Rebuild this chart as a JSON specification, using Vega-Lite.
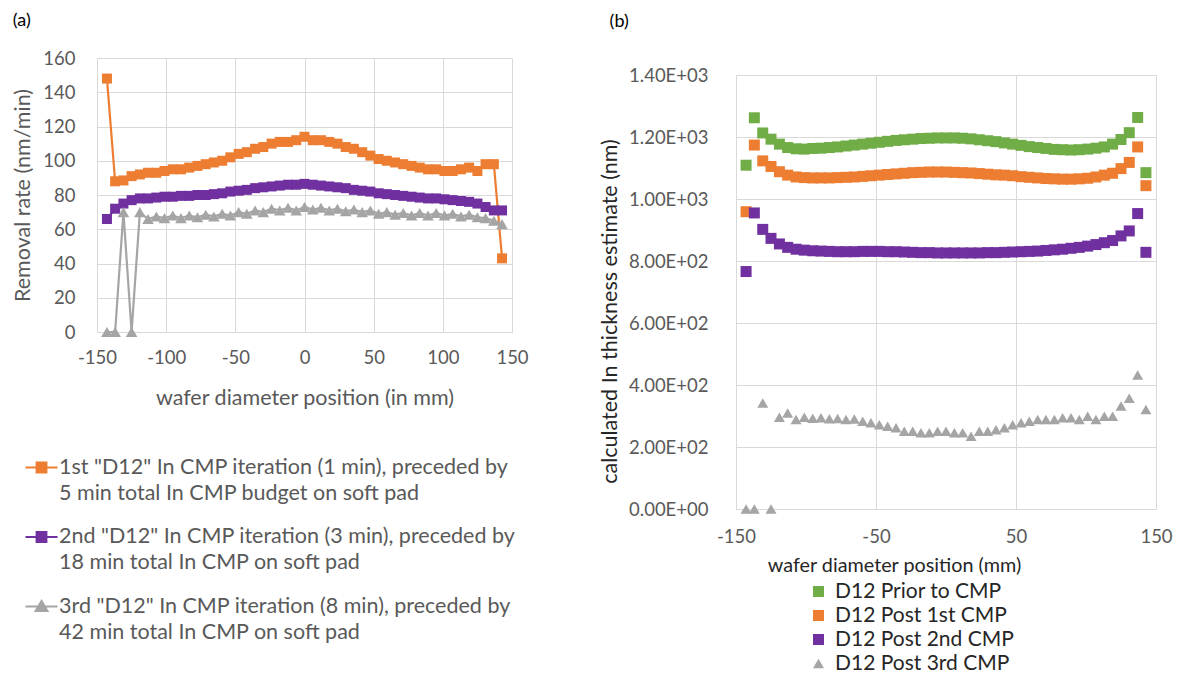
{
  "$schema": "https://vega.github.io/schema/vega-lite/v6.json",
  "background": "white",
  "padding": {"left": 12, "top": 12, "right": 0, "bottom": 0},
  "config": {
    "font": "Lato",
    "view": {"stroke": null},
    "axis": {"ticks": false, "gridColor": "#d9d9d9", "domainColor": "#d9d9d9", "labelFontSize": 18.5, "titleFontSize": 21.5, "titleFontWeight": "normal", "labelColor": "#595959", "titleColor": "#595959", "labelFont": "Lato", "titleFont": "Lato", "labelFlush": false, "labelOverlap": false},
    "title": {"font": "Lato"}
  },
  "resolve": {"scale": {"x": "independent", "y": "independent", "color": "independent", "shape": "independent", "size": "independent"}, "legend": {"color": "independent", "shape": "independent"}},
  "spacing": 70,
  "datasets": {
    "rate": [
      {"x": -142.8, "1st": 148, "2nd": 66, "3rd": 0},
      {"x": -136.9, "1st": 88, "2nd": 72, "3rd": 0},
      {"x": -130.9, "1st": 88.5, "2nd": 75, "3rd": 70},
      {"x": -125.0, "1st": 91, "2nd": 77, "3rd": 0},
      {"x": -119.0, "1st": 92, "2nd": 78, "3rd": 70},
      {"x": -113.1, "1st": 93, "2nd": 78, "3rd": 66},
      {"x": -107.1, "1st": 93, "2nd": 78.5, "3rd": 67.5},
      {"x": -101.2, "1st": 94, "2nd": 79, "3rd": 66.5},
      {"x": -95.2, "1st": 95, "2nd": 79, "3rd": 68},
      {"x": -89.3, "1st": 95, "2nd": 79.5, "3rd": 66.5},
      {"x": -83.3, "1st": 96, "2nd": 79.5, "3rd": 68},
      {"x": -77.4, "1st": 97, "2nd": 80, "3rd": 67},
      {"x": -71.4, "1st": 98, "2nd": 80, "3rd": 68.5},
      {"x": -65.5, "1st": 99, "2nd": 80.5, "3rd": 67.5},
      {"x": -59.5, "1st": 100, "2nd": 81, "3rd": 69},
      {"x": -53.6, "1st": 102, "2nd": 82, "3rd": 68},
      {"x": -47.6, "1st": 104, "2nd": 82.5, "3rd": 70},
      {"x": -41.7, "1st": 105, "2nd": 83, "3rd": 69},
      {"x": -35.7, "1st": 107, "2nd": 84, "3rd": 71},
      {"x": -29.8, "1st": 108, "2nd": 84.5, "3rd": 70},
      {"x": -23.8, "1st": 110, "2nd": 85, "3rd": 72},
      {"x": -17.9, "1st": 111, "2nd": 85.5, "3rd": 71},
      {"x": -11.9, "1st": 111, "2nd": 86, "3rd": 72.5},
      {"x": -6.0, "1st": 112, "2nd": 86, "3rd": 71},
      {"x": 0, "1st": 114, "2nd": 86.5, "3rd": 73},
      {"x": 6.0, "1st": 112, "2nd": 86, "3rd": 71.5},
      {"x": 11.9, "1st": 112, "2nd": 85.5, "3rd": 72.5},
      {"x": 17.9, "1st": 111, "2nd": 85, "3rd": 71},
      {"x": 23.8, "1st": 110, "2nd": 84.5, "3rd": 72},
      {"x": 29.8, "1st": 108, "2nd": 84, "3rd": 70.5},
      {"x": 35.7, "1st": 107, "2nd": 83, "3rd": 71.5},
      {"x": 41.7, "1st": 105, "2nd": 82.5, "3rd": 70},
      {"x": 47.6, "1st": 103, "2nd": 82, "3rd": 71},
      {"x": 53.6, "1st": 101, "2nd": 81, "3rd": 69},
      {"x": 59.5, "1st": 100, "2nd": 80.5, "3rd": 70},
      {"x": 65.5, "1st": 99, "2nd": 80, "3rd": 68.5},
      {"x": 71.4, "1st": 98, "2nd": 79.5, "3rd": 69.5},
      {"x": 77.4, "1st": 97, "2nd": 79, "3rd": 68},
      {"x": 83.3, "1st": 96, "2nd": 78.5, "3rd": 69.5},
      {"x": 89.3, "1st": 95, "2nd": 78, "3rd": 68},
      {"x": 95.2, "1st": 95, "2nd": 78, "3rd": 69.5},
      {"x": 101.2, "1st": 94, "2nd": 77.5, "3rd": 68},
      {"x": 107.1, "1st": 94, "2nd": 77, "3rd": 69},
      {"x": 113.1, "1st": 95, "2nd": 76.5, "3rd": 67.5},
      {"x": 119.0, "1st": 96, "2nd": 76, "3rd": 68.5},
      {"x": 125.0, "1st": 94, "2nd": 75, "3rd": 67},
      {"x": 130.9, "1st": 98, "2nd": 73, "3rd": 66.5},
      {"x": 136.9, "1st": 98, "2nd": 71, "3rd": 65},
      {"x": 142.8, "1st": 43, "2nd": 71, "3rd": 63}
    ],
    "thick": [
      {"x": -142.8, "g": 1109, "o": 959, "p": 766, "t": 0},
      {"x": -136.9, "g": 1262, "o": 1174, "p": 955, "t": 0},
      {"x": -130.9, "g": 1213, "o": 1123, "p": 902, "t": 342},
      {"x": -125.0, "g": 1193, "o": 1105, "p": 873, "t": 0},
      {"x": -119.0, "g": 1177, "o": 1088, "p": 855, "t": 296},
      {"x": -113.1, "g": 1166, "o": 1077, "p": 844, "t": 310},
      {"x": -107.1, "g": 1162, "o": 1071, "p": 838, "t": 289},
      {"x": -101.2, "g": 1161, "o": 1069, "p": 835, "t": 296},
      {"x": -95.2, "g": 1163, "o": 1068, "p": 833, "t": 293},
      {"x": -89.3, "g": 1164, "o": 1068, "p": 832, "t": 294},
      {"x": -83.3, "g": 1166, "o": 1068, "p": 831, "t": 291},
      {"x": -77.4, "g": 1168, "o": 1069, "p": 830, "t": 292},
      {"x": -71.4, "g": 1171, "o": 1070, "p": 830, "t": 289},
      {"x": -65.5, "g": 1174, "o": 1071, "p": 830, "t": 290},
      {"x": -59.5, "g": 1177, "o": 1073, "p": 831, "t": 283},
      {"x": -53.6, "g": 1180, "o": 1075, "p": 831, "t": 278},
      {"x": -47.6, "g": 1183, "o": 1077, "p": 831, "t": 272},
      {"x": -41.7, "g": 1186, "o": 1079, "p": 830, "t": 267},
      {"x": -35.7, "g": 1189, "o": 1081, "p": 830, "t": 262},
      {"x": -29.8, "g": 1191, "o": 1083, "p": 829, "t": 251},
      {"x": -23.8, "g": 1193, "o": 1085, "p": 828, "t": 251},
      {"x": -17.9, "g": 1195, "o": 1086, "p": 827, "t": 246},
      {"x": -11.9, "g": 1196, "o": 1087, "p": 827, "t": 246},
      {"x": -6.0, "g": 1197, "o": 1087, "p": 826, "t": 251},
      {"x": 0, "g": 1197, "o": 1087, "p": 826, "t": 251},
      {"x": 6.0, "g": 1197, "o": 1086, "p": 826, "t": 246},
      {"x": 11.9, "g": 1196, "o": 1085, "p": 826, "t": 246},
      {"x": 17.9, "g": 1194, "o": 1084, "p": 826, "t": 235},
      {"x": 23.8, "g": 1191, "o": 1082, "p": 826, "t": 251},
      {"x": 29.8, "g": 1188, "o": 1080, "p": 827, "t": 251},
      {"x": 35.7, "g": 1185, "o": 1078, "p": 827, "t": 256},
      {"x": 41.7, "g": 1181, "o": 1077, "p": 828, "t": 262},
      {"x": 47.6, "g": 1177, "o": 1075, "p": 829, "t": 272},
      {"x": 53.6, "g": 1173, "o": 1072, "p": 830, "t": 278},
      {"x": 59.5, "g": 1169, "o": 1070, "p": 831, "t": 283},
      {"x": 65.5, "g": 1166, "o": 1068, "p": 832, "t": 289},
      {"x": 71.4, "g": 1163, "o": 1066, "p": 834, "t": 289},
      {"x": 77.4, "g": 1160, "o": 1065, "p": 836, "t": 289},
      {"x": 83.3, "g": 1159, "o": 1064, "p": 838, "t": 294},
      {"x": 89.3, "g": 1158, "o": 1064, "p": 841, "t": 294},
      {"x": 95.2, "g": 1159, "o": 1065, "p": 844, "t": 289},
      {"x": 101.2, "g": 1161, "o": 1067, "p": 848, "t": 299},
      {"x": 107.1, "g": 1164, "o": 1071, "p": 853, "t": 289},
      {"x": 113.1, "g": 1168, "o": 1077, "p": 859, "t": 299},
      {"x": 119.0, "g": 1177, "o": 1083, "p": 866, "t": 299},
      {"x": 125.0, "g": 1192, "o": 1098, "p": 881, "t": 332},
      {"x": 130.9, "g": 1214, "o": 1118, "p": 897, "t": 357},
      {"x": 136.9, "g": 1263, "o": 1168, "p": 953, "t": 432},
      {"x": 142.8, "g": 1085, "o": 1043, "p": 828, "t": 321}
    ]
  },
  "hconcat": [
    {
      "title": {"text": "(a)", "anchor": "start", "frame": "bounds", "fontSize": 18, "fontWeight": "normal", "color": "#000000", "offset": 19, "dy": 0},
      "width": 415,
      "height": 274,
      "data": {"name": "rate"},
      "transform": [{"fold": ["1st", "2nd", "3rd"], "as": ["s", "v"]}],
      "encoding": {
        "x": {"field": "x", "type": "quantitative", "scale": {"domain": [-150, 150], "nice": false, "zero": false},
          "axis": {"values": [-150, -100, -50, 0, 50, 100, 150], "title": "wafer diameter position (in mm)", "labelPadding": 16, "titlePadding": 21,
            "labelExpr": "datum.value < 0 ? '-' + abs(datum.value) : '' + datum.value"}},
        "y": {"field": "v", "type": "quantitative", "scale": {"domain": [0, 160], "nice": false},
          "axis": {"values": [0, 20, 40, 60, 80, 100, 120, 140, 160], "title": "Removal rate (nm/min)", "labelPadding": 22, "titlePadding": 8, "titleFontSize": 21.5}},
        "color": {"field": "s", "type": "nominal", "scale": {"domain": ["1st", "2nd", "3rd"], "range": ["#ED7D31", "#7030A0", "#A5A5A5"]},
          "legend": {
            "orient": "none", "legendX": -73, "legendY": 392, "title": null, "direction": "vertical",
            "labelFontSize": 21.5, "labelColor": "#595959", "labelFont": "Lato", "labelLimit": 700, "labelOffset": 0,
            "symbolSize": 1024, "symbolStrokeWidth": 2.2, "rowPadding": 15.5,
            "labelExpr": "datum.value == '1st' ? ['1st \"D12\" In CMP iteration (1 min), preceded by', '5 min total In CMP budget on soft pad'] : datum.value == '2nd' ? ['2nd \"D12\" In CMP iteration (3 min), preceded by', '18 min total In CMP on soft pad'] : ['3rd \"D12\" In CMP iteration (8 min), preceded by', '42 min total In CMP on soft pad']",
            "encode": {
              "symbols": {"update": {
                "shape": {"signal": "datum.value == '3rd' ? 'M-1,0H1M0,-0.34L0.36,0.27H-0.36Z' : 'M-1,0H1M-0.3,-0.3H0.3V0.3H-0.3Z'"},
                "fill": {"signal": "datum.value == '1st' ? '#ED7D31' : datum.value == '2nd' ? '#7030A0' : '#A5A5A5'"},
                "stroke": {"signal": "datum.value == '1st' ? '#ED7D31' : datum.value == '2nd' ? '#7030A0' : '#A5A5A5'"},
                "strokeWidth": {"value": 2.2},
                "opacity": {"value": 1},
                "strokeOpacity": {"value": 1}
              }},
              "labels": {"update": {"lineHeight": {"value": 26}}}
            }
          }
        }
      },
      "layer": [
        {"mark": {"type": "line", "strokeWidth": 2.2}},
        {"transform": [{"filter": "datum.s != '3rd'"}], "mark": {"type": "point", "filled": true, "opacity": 1, "shape": "square", "size": 100}},
        {"transform": [{"filter": "datum.s == '3rd'"}], "mark": {"type": "point", "filled": true, "opacity": 1, "shape": "triangle-up", "size": 135}}
      ]
    },
    {
      "title": {"text": "(b)", "anchor": "start", "frame": "bounds", "fontSize": 18, "fontWeight": "normal", "color": "#000000", "offset": 19, "dy": -3, "dx": 10},
      "spacing": 2,
      "vconcat": [
        {"width": 420, "height": 1, "data": {"values": [{"k": 0}]}, "mark": {"type": "text", "text": ""}, "encoding": {}},
        {
          "width": 420,
          "height": 434,
          "data": {"name": "thick"},
          "transform": [{"fold": ["g", "o", "p", "t"], "as": ["s", "v"]}],
          "mark": {"type": "point", "filled": true, "opacity": 1},
          "encoding": {
            "x": {"field": "x", "type": "quantitative", "scale": {"domain": [-150, 150], "nice": false, "zero": false},
              "axis": {"values": [-150, -50, 50, 150], "title": "wafer diameter position (mm)", "titleColor": "#262626", "titleFontSize": 19.8, "labelPadding": 18, "titlePadding": 10, "titleX": 158,
                "labelExpr": "datum.value < 0 ? '-' + abs(datum.value) : '' + datum.value"}},
            "y": {"field": "v", "type": "quantitative", "scale": {"domain": [0, 1400], "nice": false},
              "axis": {"values": [0, 200, 400, 600, 800, 1000, 1200, 1400], "title": "calculated In thickness estimate (nm)", "titleColor": "#262626", "titleFontSize": 21.5, "labelFontSize": 18.5, "labelPadding": 28, "titlePadding": 7, "titleY": 236,
                "labelExpr": "datum.value >= 1000 ? format(datum.value / 1000, '.2f') + 'E+03' : datum.value > 0 ? format(datum.value / 100, '.2f') + 'E+02' : '0.00E+00'"}},
            "color": {"field": "s", "type": "nominal", "scale": {"domain": ["g", "o", "p", "t"], "range": ["#70AD47", "#ED7D31", "#7030A0", "#A5A5A5"]},
              "legend": {"orient": "none", "legendX": 72, "legendY": 523, "title": null, "direction": "vertical", "labelFontSize": 21, "labelColor": "#262626", "labelFont": "Lato", "labelLimit": 400, "symbolSize": 121, "rowPadding": 2, "labelOffset": 6,
                "labelExpr": "datum.value == 'g' ? 'D12 Prior to CMP' : datum.value == 'o' ? 'D12 Post 1st CMP' : datum.value == 'p' ? 'D12 Post 2nd CMP' : 'D12 Post 3rd CMP'"}},
            "shape": {"field": "s", "type": "nominal", "scale": {"domain": ["g", "o", "p", "t"], "range": ["square", "square", "square", "triangle-up"]},
              "legend": {"orient": "none", "legendX": 72, "legendY": 523, "title": null, "direction": "vertical", "labelFontSize": 21, "labelColor": "#262626", "labelFont": "Lato", "labelLimit": 400, "symbolSize": 121, "rowPadding": 2, "labelOffset": 6,
                "labelExpr": "datum.value == 'g' ? 'D12 Prior to CMP' : datum.value == 'o' ? 'D12 Post 1st CMP' : datum.value == 'p' ? 'D12 Post 2nd CMP' : 'D12 Post 3rd CMP'"}},
            "size": {"field": "s", "type": "nominal", "scale": {"domain": ["g", "o", "p", "t"], "range": [121, 121, 121, 150]}, "legend": null}
          }
        }
      ]
    }
  ]
}
